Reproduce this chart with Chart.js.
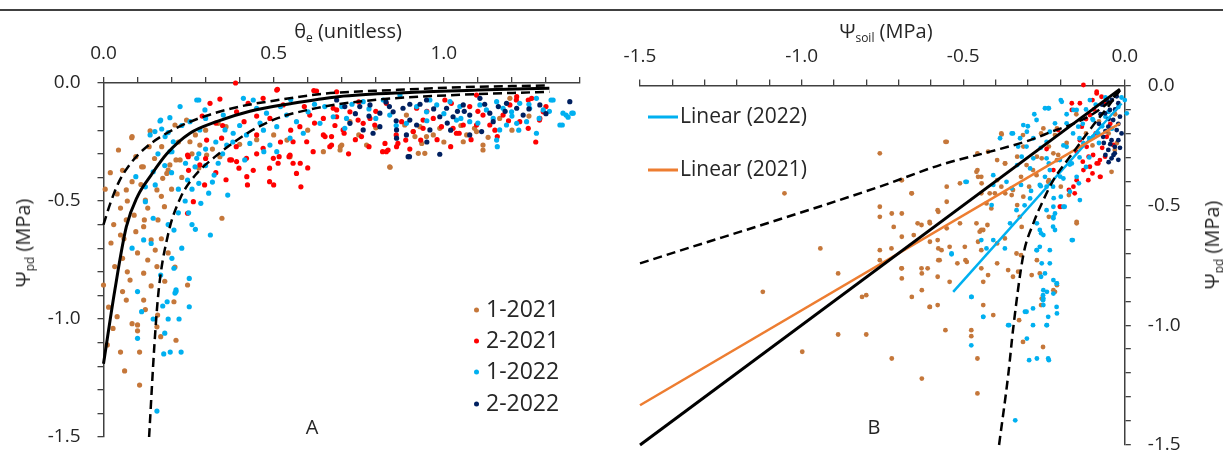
<!DOCTYPE html>
<html>
<head>
<meta charset="utf-8">
<script src="https://cdn.jsdelivr.net/npm/chart.js@4.4.0/dist/chart.umd.min.js"></script>
<style>
  body { margin: 0; background: #fff; }
  #wrap { position: relative; width: 1223px; height: 452px; overflow: hidden; font-family: 'Open Sans', sans-serif; color: #262626; }
  #topline { position: absolute; left: 0; top: 9px; width: 1223px; height: 2px; background: #404040; }
  #cA { position: absolute; left: 0; top: 0; }
  #cB { position: absolute; left: 610px; top: 0; }
  .t { position: absolute; white-space: nowrap; line-height: 1; transform: translate(-50%, -50%); }
  .rot { transform: translate(-50%, -50%) rotate(-90deg); }
  sub { font-size: 60%; vertical-align: -0.35em; line-height: 0; }
  .dot { display: inline-block; width: 5px; height: 5px; border-radius: 50%; vertical-align: middle; margin-right: 7px; }
  .leg { position: absolute; white-space: nowrap; line-height: 1; font-size: 23px; transform: translateY(-50%); }
  .lin { display: inline-block; width: 30px; height: 3px; vertical-align: middle; margin-right: 2px; }
</style>
</head>
<body>
<div id="wrap">
  <div id="topline"></div>
  <canvas id="cA" width="610" height="452"></canvas>
  <canvas id="cB" width="613" height="452"></canvas>

  <div class="t" style="left:348px;top:31px;font-size:20px;">θ<sub>e</sub> (unitless)</div>
  <div class="t" style="left:886px;top:31px;font-size:20px;">Ψ<sub>soil</sub> (MPa)</div>
  <div class="t rot" style="left:23px;top:243px;font-size:20px;">Ψ<sub>pd</sub> (MPa)</div>
  <div class="t rot" style="left:1212px;top:245px;font-size:20px;">Ψ<sub>pd</sub> (MPa)</div>

  <div class="leg" style="left:474px;top:308px;"><span class="dot" style="background:#C5773A"></span>1-2021</div>
  <div class="leg" style="left:474px;top:339px;"><span class="dot" style="background:#FF0000"></span>2-2021</div>
  <div class="leg" style="left:474px;top:370px;"><span class="dot" style="background:#00B0F0"></span>1-2022</div>
  <div class="leg" style="left:474px;top:402px;"><span class="dot" style="background:#002060"></span>2-2022</div>

  <div class="leg" style="left:648px;top:115px;font-size:21px;"><span class="lin" style="background:#00B0F0"></span>Linear (2022)</div>
  <div class="leg" style="left:648px;top:168px;font-size:21px;"><span class="lin" style="background:#ED7D31"></span>Linear (2021)</div>

  <div class="t" style="left:312px;top:427px;font-size:20px;">A</div>
  <div class="t" style="left:874px;top:427px;font-size:20px;">B</div>
</div>

<script>
// ---- panel A : theta_e vs psi_pd ----
const a2021_1 = [
  [0.005,-0.45],[0.056,-0.37],[0.084,-0.418],[0.112,-0.355],[0.123,-0.496],[0.05,-0.53],[0.067,-0.58],[0.05,-0.644],
  [0.022,-0.678],[0.095,-0.63],[0.118,-0.609],[0.14,-0.665],[0.033,-0.778],[0.056,-0.743],[0.078,-0.835],[0.118,-0.806],
  [0.157,-0.778],[0.152,-0.708],[0.179,-0.524],[0.157,-0.453],[0.174,-0.404],[0.19,-0.369],[0.213,-0.326],[0.247,-0.856],
  [0,-0.856],[0.348,-0.573],[0.842,-0.357],[0.095,-0.312],[0.067,-0.453],[0.011,-1.11],[0.028,-1.04],[0.05,-1.14],
  [0.067,-0.92],[0.084,-1.02],[0.062,-1.22],[0.1,-1.025],[0.1,-1.05],[0.106,-1.14],[0.106,-1.28],[0.118,-0.92],
  [0.123,-0.96],[0.168,-1.075],[0.207,-0.927],[0.213,-1.09],[0.056,-0.884],[0.159,-0.983],[0.157,-1.033],
  [0.083,-0.232],[0.137,-0.203],[0.171,-0.27],[0.21,-0.178],[0.244,-0.157],[0.254,-0.249],[0.283,-0.263],[0.303,-0.305],
  [0.225,-0.326],[0.195,-0.347],[0.117,-0.355],[0.186,-0.383],[0.342,-0.312],[0.337,-0.171],[0.548,-0.312],[0.646,-0.291],
  [0.7,-0.263],[0.695,-0.284],[0.724,-0.164],[0.773,-0.263],[0.841,-0.355],[0.89,-0.136],[0.91,-0.206],[0.915,-0.227],
  [0.93,-0.185],[0.949,-0.227],[0.935,-0.256],[0.925,-0.298],[0.944,-0.298],[0.969,-0.22],[0.988,-0.192],[1.057,-0.249],
  [1.067,-0.22],[1.115,-0.263],[1.115,-0.284],[1.096,-0.206],[1.164,-0.15],[1.194,-0.065],[0.885,-0.178],[0.044,-0.284],
  [0.084,-0.227],[0.134,-0.27],[0.02,-0.38],[0.04,-0.47],[0.07,-0.5],[0.09,-0.56],[0.13,-0.53],[0.16,-0.58],[0.2,-0.45],
  [0.23,-0.4],[0.26,-0.3],[0.1,-0.72],[0.13,-0.75],[0.07,-0.8],[0.03,-0.6],[0.17,-0.66],[0.19,-0.72],[0.015,-0.95],
  [0.04,-0.99],[0.14,-0.86],[0.18,-0.84],[0.21,-0.78],[0.27,-0.22],[0.3,-0.2],[0.32,-0.28],[0.4,-0.26],[0.45,-0.24],
  [0.5,-0.22],[0.6,-0.2],[0.75,-0.22],[0.8,-0.19],[1.0,-0.25],[1.05,-0.18],[1.2,-0.2],[1.25,-0.14],[1.13,-0.23],
  [0.36,-0.185],[0.539,-0.242],[0.696,-0.27],[1.09,-0.192],[0.15,-0.32],[0.22,-0.25],[0.28,-0.36],[0.11,-0.43],
  [0.06,-0.66],[0.12,-0.58],[0.17,-0.48]
];
const a2021_2 = [
  [0.247,-0.305],[0.297,-0.432],[0.264,-0.503],[0.247,-0.552],[0.376,-0.326],[0.398,-0.361],[0.421,-0.397],[0.423,-0.432],
  [0.488,-0.361],[0.488,-0.418],[0.5,-0.432],[0.516,-0.312],[0.545,-0.312],[0.567,-0.383],[0.578,-0.34],[0.831,-0.291],
  [0.388,0.0],[0.342,-0.068],[0.313,-0.086],[0.425,-0.086],[0.469,-0.065],[0.509,-0.03],[0.626,-0.034],[0.391,-0.122],
  [0.413,-0.164],[0.371,-0.326],[0.391,-0.333],[0.469,-0.277],[0.499,-0.319],[0.513,-0.34],[0.548,-0.305],[0.557,-0.249],
  [0.597,-0.249],[0.616,-0.291],[0.646,-0.22],[0.665,-0.27],[0.577,-0.185],[0.606,-0.136],[0.646,-0.15],[0.685,-0.114],
  [0.45,-0.22],[0.489,-0.15],[0.528,-0.093],[0.303,-0.242],[0.249,-0.312],[0.283,-0.347],[0.347,-0.234],[0.42,-0.319],
  [0.557,-0.34],[0.675,-0.107],[0.685,-0.143],[0.67,-0.263],[0.67,-0.227],[0.724,-0.122],[0.748,-0.157],[0.763,-0.171],
  [0.783,-0.15],[0.758,-0.227],[0.827,-0.256],[0.836,-0.284],[0.861,-0.27],[0.876,-0.164],[0.92,-0.107],[0.939,-0.157],
  [0.939,-0.192],[0.969,-0.15],[0.993,-0.185],[1.003,-0.072],[1.027,-0.192],[1.037,-0.213],[1.057,-0.178],[1.076,-0.1],
  [1.096,-0.178],[1.115,-0.136],[1.135,-0.178],[1.174,-0.136],[1.194,-0.093],[1.214,-0.058],[1.248,-0.192],[1.248,-0.072],
  [1.282,-0.15],[1.292,-0.122],[0.704,-0.199],[0.797,-0.178],[0.91,-0.206],[1.096,-0.051],[1.223,-0.164],[0.511,-0.027],
  [0.618,-0.032],[0.685,-0.037],[0.831,-0.086],[0.888,-0.242],[0.932,-0.242],[1.022,-0.086],[1.213,-0.072],[1.281,-0.157],
  [1.258,-0.065],[0.651,-0.227],[0.865,-0.256],[0.82,-0.291],[0.707,-0.213],[1.045,-0.213],[1.157,-0.227],[0.59,-0.1],
  [0.75,-0.08],[0.95,-0.12],[1.1,-0.12],[1.3,-0.1],[0.8,-0.12],[0.35,-0.18],[0.45,-0.14],[0.72,-0.3],[0.6,-0.36],
  [0.3,-0.32],[0.33,-0.38],[0.36,-0.41],[0.45,-0.3],[0.52,-0.25],[0.55,-0.2],[0.62,-0.17],[0.68,-0.18],[0.74,-0.24],
  [0.78,-0.27],[0.86,-0.22],[0.9,-0.28],[0.98,-0.24],[1.02,-0.27],[1.08,-0.24],[1.15,-0.2],[1.19,-0.16],[1.27,-0.25],
  [0.58,-0.44],[0.44,-0.37],[0.39,-0.27],[0.33,-0.17],[0.29,-0.14],[0.25,-0.37]
];
const a2022_1 = [
  [0.1,-1.082],[0.112,-0.969],[0.146,-1.0],[0.174,-0.945],[0.177,-1.148],[0.187,-0.927],[0.19,-1.0],[0.18,-1.06],
  [0.196,-1.14],[0.21,-0.89],[0.222,-1.0],[0.228,-1.14],[0.252,-0.948],[0.157,-1.39],[0.213,-0.877],
  [0.095,-0.397],[0.123,-0.44],[0.152,-0.432],[0.123,-0.503],[0.146,-0.573],[0.19,-0.6],[0.207,-0.623],[0.118,-0.665],
  [0.14,-0.68],[0.084,-0.7],[0.201,-0.743],[0.207,-0.785],[0.252,-0.828],[0.1,-0.884],[0.168,-0.814],[0.213,-0.884],
  [0.247,-0.411],[0.28,-0.425],[0.309,-0.467],[0.286,-0.51],[0.314,-0.644],[0.365,-0.475],[0.325,-0.39],[0.269,-0.355],
  [0.337,-0.34],[0.415,-0.326],[0.471,-0.291],[0.201,-0.291],[0.241,-0.34],
  [0.274,-0.072],[0.225,-0.1],[0.195,-0.147],[0.166,-0.161],[0.171,-0.195],[0.137,-0.22],[0.181,-0.227],[0.205,-0.249],
  [0.254,-0.164],[0.283,-0.199],[0.298,-0.114],[0.352,-0.136],[0.357,-0.199],[0.381,-0.213],[0.362,-0.263],[0.411,-0.065],
  [0.44,-0.072],[0.45,-0.107],[0.479,-0.128],[0.509,-0.185],[0.538,-0.136],[0.567,-0.164],[0.587,-0.213],[0.548,-0.234],
  [0.601,-0.122],[0.636,-0.171],[0.675,-0.143],[0.489,-0.263],[0.43,-0.256],[0.274,-0.319],[0.195,-0.291],[0.146,-0.376],
  [0.509,-0.291],[0.959,-0.072],[0.979,-0.093],[0.949,-0.122],[1.018,-0.079],[1.047,-0.1],[1.106,-0.093],[1.125,-0.114],
  [1.155,-0.079],[1.174,-0.107],[1.199,-0.122],[1.223,-0.086],[1.252,-0.107],[1.272,-0.065],[1.292,-0.114],[1.214,-0.171],
  [1.243,-0.164],[1.184,-0.178],[1.145,-0.15],[1.164,-0.199],[1.321,-0.072],[1.35,-0.128],[1.365,-0.145],[1.38,-0.128],
  [1.341,-0.178],[1.272,-0.213],[1.155,-0.242],[1.076,-0.164],[1.037,-0.157],[0.763,-0.079],[0.714,-0.15],[0.709,-0.192],
  [0.822,-0.072],[0.841,-0.136],[0.89,-0.171],[0.92,-0.1],[0.871,-0.051],[1.348,-0.178],[1.359,-0.136],[1.376,-0.128],
  [1.315,-0.072],[0.28,-0.072],[0.168,-0.157],[0.151,-0.206],[1.157,-0.27],[0.62,-0.09],[0.7,-0.1],[0.78,-0.11],
  [0.33,-0.25],[0.4,-0.18],[0.47,-0.2],[1.0,-0.13],[1.2,-0.14],[1.25,-0.09],[0.26,-0.6],[0.23,-0.7],
  [0.16,-0.3],[0.18,-0.35],[0.2,-0.38],[0.22,-0.45],[0.24,-0.5],[0.26,-0.45],[0.28,-0.3],[0.3,-0.35],[0.32,-0.42],
  [0.25,-0.55],[0.27,-0.62],[0.22,-0.55],[0.3,-0.28],[0.35,-0.3],[0.38,-0.25],[0.42,-0.22],[0.46,-0.17],[0.52,-0.1],
  [0.55,-0.07],[0.65,-0.1],[0.73,-0.09],[0.8,-0.15],[0.86,-0.18],[0.95,-0.16],[1.05,-0.15],[1.1,-0.17],[1.28,-0.15],
  [1.31,-0.12],[1.22,-0.2],[0.19,-0.21],[0.23,-0.18],[0.3,-0.15]
];
const a2022_2 = [
  [0.685,-0.072],[0.709,-0.1],[0.753,-0.1],[0.783,-0.093],[0.812,-0.128],[0.851,-0.122],[0.88,-0.107],[0.9,-0.157],
  [0.812,-0.185],[0.792,-0.213],[0.763,-0.199],[0.861,-0.199],[0.861,-0.234],[0.89,-0.22],[0.92,-0.178],[0.949,-0.072],
  [0.988,-0.143],[1.008,-0.107],[1.057,-0.093],[1.076,-0.136],[1.106,-0.065],[1.135,-0.128],[1.145,-0.164],[1.111,-0.206],
  [1.076,-0.22],[1.184,-0.086],[1.214,-0.107],[1.233,-0.136],[1.282,-0.093],[1.37,-0.079],[0.895,-0.312],[0.988,-0.302],
  [1.027,-0.143],[0.959,-0.199],[0.724,-0.171],[0.899,-0.312],[0.83,-0.08],[0.93,-0.09],[1.04,-0.12],[1.16,-0.1],
  [0.78,-0.14],[0.84,-0.1],[0.9,-0.09],[0.97,-0.11],[1.01,-0.17],[1.06,-0.12],[1.12,-0.09],[1.18,-0.12],[1.25,-0.11],
  [1.3,-0.13],[0.95,-0.25],[1.02,-0.2],[0.86,-0.16],[0.74,-0.13]
];
const aFit = [[0,-1.19],[0.033,-0.88],[0.067,-0.61],[0.1,-0.48],[0.14,-0.39],[0.186,-0.3],[0.254,-0.213],[0.332,-0.164],
  [0.43,-0.12],[0.548,-0.088],[0.69,-0.058],[0.9,-0.04],[1.1,-0.03],[1.31,-0.022]];
const aUpper = [[0,-0.6],[0.02,-0.51],[0.045,-0.42],[0.08,-0.34],[0.127,-0.27],[0.215,-0.19],[0.3,-0.14],[0.4,-0.1],
  [0.5,-0.075],[0.65,-0.045],[0.85,-0.03],[1.05,-0.018],[1.31,-0.01]];
const aLower = [[0.134,-1.5],[0.15,-1.1],[0.162,-0.88],[0.19,-0.64],[0.225,-0.49],[0.27,-0.39],[0.33,-0.31],[0.372,-0.263],
  [0.43,-0.206],[0.51,-0.15],[0.6,-0.114],[0.69,-0.09],[0.85,-0.065],[1.05,-0.05],[1.31,-0.037]];

// ---- panel B : psi_soil vs psi_pd ----
const b2021_1 = [
  [-0.758,-0.283],[-1.053,-0.45],[-0.942,-0.68],[-0.758,-0.506],[-0.758,-0.548],[-0.758,-0.687],[-0.758,-0.729],
  [-0.721,-0.534],[-0.69,-0.534],[-0.69,-0.395],[-0.659,-0.45],[-0.715,-0.59],[-0.69,-0.631],[-0.69,-0.763],[-0.69,-0.805],
  [-0.887,-0.784],[-0.653,-0.624],[-0.641,-0.575],[-0.604,-0.569],[-0.579,-0.52],[-0.579,-0.645],[-0.573,-0.729],
  [-0.567,-0.687],[-0.628,-0.784],[-0.61,-0.763],[-0.579,-0.798],[-0.456,-0.353],[-0.444,-0.381],[-0.444,-0.45],
  [-0.425,-0.582],[-0.413,-0.513],[-0.395,-0.395],[-0.382,-0.422],[-0.37,-0.45],[-0.346,-0.436],[-0.321,-0.381],
  [-0.296,-0.422],[-0.333,-0.499],[-0.444,-0.603],[-0.444,-0.687],[-0.444,-0.763],[-0.395,-0.659],[-0.395,-0.742],
  [-0.321,-0.708],[-0.346,-0.798],[-0.21,-0.311],[-0.149,-0.569],[-0.235,-0.548],[-0.456,-0.283],[-0.37,-0.325],
  [-0.395,-0.311],[-0.284,-0.353],[-0.333,-0.297],[-0.272,-0.297],[-0.235,-0.395],[-0.198,-0.422],[-0.173,-0.457],
  [-0.542,-0.673],[-0.493,-0.729],[-0.542,-0.819],[-0.272,-0.729],[-0.21,-0.833],[-0.813,-0.882],[-0.518,-0.742],
  [-1.12,-0.861],[-0.8,-0.875],[-0.659,-0.882],[-0.628,-0.854],[-0.604,-0.924],[-0.579,-0.916],[-0.887,-1.039],
  [-0.8,-1.039],[-0.998,-1.111],[-0.721,-1.139],[-0.628,-1.223],[-0.555,-1.021],[-0.475,-1.021],[-0.475,-1.046],
  [-0.456,-1.139],[-0.438,-0.916],[-0.407,-0.958],[-0.456,-1.285],[-0.327,-0.979],[-0.315,-1.07],[-0.259,-0.916],
  [-0.253,-1.091],[-0.216,-0.861],[-0.551,-0.235],[-0.423,-0.276],[-0.381,-0.204],[-0.371,-0.325],[-0.459,-0.36],
  [-0.454,-0.381],[-0.443,-0.408],[-0.51,-0.408],[-0.551,-0.422],[-0.66,-0.45],[-0.691,-0.395],[-0.314,-0.255],
  [-0.252,-0.179],[-0.221,-0.283],[-0.257,-0.304],[-0.304,-0.332],[-0.273,-0.374],[-0.237,-0.402],[-0.216,-0.207],
  [-0.206,-0.29],[-0.149,-0.575],[-0.041,-0.36],[-0.031,-0.269],[-0.025,-0.241],[-0.221,-0.854],[-0.257,-0.889],
  [-0.382,-0.2],[-0.315,-0.207],[-0.555,-0.235],[-0.21,-0.179],[-0.259,-0.2],[-0.235,-0.255],[-0.15,-0.12],
  [-0.12,-0.2],[-0.1,-0.25],[-0.18,-0.24],[-0.08,-0.15],[-0.05,-0.2],[-0.03,-0.12],[-0.722,-0.68],[-0.691,-0.763],
  [-0.629,-0.582],[-0.629,-0.763],[-0.603,-0.575],[-0.603,-0.652],[-0.603,-0.924],[-0.577,-0.527],[-0.577,-0.68],
  [-0.577,-0.729],[-0.551,-0.485],[-0.551,-0.596],[-0.51,-0.575],[-0.495,-0.673],[-0.489,-0.736],[-0.459,-0.575],
  [-0.449,-0.61],[-0.454,-0.652],[-0.428,-0.492],[-0.418,-0.45],[-0.423,-0.791],[-0.438,-0.819],[-0.402,-0.45],
  [-0.371,-0.638],[-0.361,-0.77],[-0.35,-0.457],[-0.335,-0.701],[-0.33,-0.777],[-0.325,-0.548],[-0.319,-0.59],
  [-0.314,-0.464],[-0.288,-0.791],[-0.263,-0.784],[-0.438,-0.603]
];
const b2021_2 = [
  [-0.198,-0.506],[-0.13,-0.318],[-0.112,-0.297],[-0.087,-0.325],[-0.1,-0.367],[-0.075,-0.381],[-0.149,-0.395],
  [-0.173,-0.436],[-0.155,-0.45],[-0.242,-0.265],[-0.221,-0.353],[-0.206,-0.186],[-0.128,0.002],[-0.087,-0.033],
  [-0.072,-0.047],[-0.139,-0.074],[-0.164,-0.102],[-0.108,-0.123],[-0.133,-0.172],[-0.118,-0.256],[-0.098,-0.29],
  [-0.082,-0.325],[-0.108,-0.339],[-0.128,-0.353],[-0.077,-0.381],[-0.113,-0.395],[-0.159,-0.422],[-0.149,-0.276],
  [-0.201,-0.506],[-0.056,-0.214],[-0.036,-0.248],[-0.061,-0.297],[-0.139,-0.228],[-0.164,-0.074],[-0.077,-0.311],
  [-0.087,-0.026],[-0.1,-0.061],[-0.063,-0.074],[-0.09,-0.2],[-0.07,-0.26],[-0.045,-0.16],[-0.12,-0.14],[-0.095,-0.1]
];
const b2022_1 = [
  [-0.475,-0.882],[-0.438,-0.965],[-0.475,-1.084],[-0.358,-1.0],[-0.309,-0.944],[-0.284,-0.93],[-0.284,-1.0],
  [-0.253,-0.875],[-0.253,-0.896],[-0.241,-0.861],[-0.21,-0.951],[-0.241,-1.0],[-0.303,-1.056],[-0.296,-1.146],
  [-0.272,-1.139],[-0.235,-1.146],[-0.339,-1.397],[-0.444,-0.645],[-0.407,-0.645],[-0.259,-0.617],[-0.161,-0.645],
  [-0.272,-0.687],[-0.247,-0.784],[-0.259,-0.798],[-0.21,-0.826],[-0.272,-0.575],[-0.222,-0.589],[-0.536,-0.701],
  [-0.493,-0.402],[-0.407,-0.415],[-0.333,-0.332],[-0.321,-0.415],[-0.247,-0.381],[-0.222,-0.422],[-0.198,-0.464],
  [-0.186,-0.506],[-0.216,-0.534],[-0.142,-0.408],[-0.235,-0.325],[-0.237,-0.095],[-0.273,-0.144],[-0.314,-0.165],
  [-0.35,-0.2],[-0.386,-0.22],[-0.324,-0.22],[-0.33,-0.255],[-0.319,-0.297],[-0.304,-0.255],[-0.283,-0.22],
  [-0.283,-0.304],[-0.366,-0.402],[-0.407,-0.374],[-0.489,-0.402],[-0.242,-0.235],[-0.242,-0.304],[-0.293,-0.346],
  [-0.35,-0.429],[-0.263,-0.415],[-0.195,-0.068],[-0.247,-0.095],[-0.159,-0.102],[-0.108,-0.061],[-0.216,-0.158],
  [-0.18,-0.158],[-0.232,-0.193],[-0.144,-0.172],[-0.098,-0.144],[-0.082,-0.2],[-0.128,-0.241],[-0.098,-0.214],
  [0,-0.061],[0.006,-0.116],[-0.18,-0.256],[-0.201,-0.311],[-0.232,-0.353],[-0.164,-0.325],[-0.149,-0.381],
  [-0.19,-0.388],[-0.17,-0.443],[-0.139,-0.478],[-0.242,-0.422],[-0.221,-0.506],[-0.19,-0.506],[-0.221,-0.548],
  [-0.164,-0.645],[-0.232,-0.687],[-0.257,-0.742],[-0.221,-0.812],[-0.211,-0.826],[-0.237,-0.965],[-0.237,-1.139],
  [-0.252,-0.854],[-0.252,-0.916],[-0.235,-0.095],[-0.198,-0.061],[-0.346,-0.2],[-0.303,-0.193],[-0.149,-0.102],
  [-0.536,-0.704],[-0.474,-0.882],[-0.438,-0.965],[-0.361,-1.0],[-0.304,-0.944],[-0.273,-0.687],[-0.252,-0.889],
  [-0.221,-0.868],[-0.232,-0.742],[-0.216,-0.603],[-0.211,-0.924],[-0.242,-1.0],[-0.412,-0.499],[-0.428,-0.68],
  [-0.355,-0.575],[-0.335,-0.52],[-0.263,-0.603],[-0.252,-0.624],[-0.263,-0.673],[-0.371,-0.68],[-0.293,-0.471],
  [-0.242,-0.52],[-0.221,-0.554],[-0.12,-0.1],[-0.09,-0.08],[-0.06,-0.05],[-0.03,-0.04],[-0.01,-0.05],[-0.02,-0.09],
  [-0.05,-0.11],[-0.1,-0.14],[-0.13,-0.16],[-0.07,-0.17],[-0.04,-0.18],[-0.11,-0.22],[-0.16,-0.2],[-0.19,-0.25],
  [-0.14,-0.3],[-0.12,-0.34],[-0.17,-0.33],[-0.2,-0.38],[-0.26,-0.42],[-0.29,-0.44],[-0.31,-0.5],[-0.22,-0.47],
  [-0.28,-0.12],[-0.3,-0.17],[-0.26,-0.26],[-0.18,-0.12],[-0.14,-0.22],[-0.06,-0.13],[-0.08,-0.24],[-0.11,-0.3]
];
const b2022_2 = [
  [-0.056,-0.061],[-0.046,-0.102],[-0.036,-0.144],[-0.025,-0.186],[-0.051,-0.172],[-0.041,-0.228],[-0.031,-0.256],
  [-0.041,-0.304],[-0.02,-0.074],[-0.061,-0.116],[-0.015,-0.13],[-0.067,-0.214],[-0.02,-0.228],[-0.051,-0.269],
  [-0.031,-0.283],[-0.07,-0.08],[-0.04,-0.06],[-0.03,-0.1],[-0.05,-0.14],[-0.06,-0.19],[-0.02,-0.16],[-0.01,-0.2],
  [-0.045,-0.245],[-0.035,-0.29],[-0.015,-0.26],[-0.065,-0.24],[-0.08,-0.16],[-0.075,-0.12],[-0.025,-0.045],
  [-0.06,-0.29],[-0.05,-0.32],[-0.02,-0.31]
];
const bOneToOne = [[-1.5,-1.5],[-0.015,-0.015]];
const bUpper = [[-1.5,-0.742],[-0.758,-0.422],[-0.572,-0.332],[-0.417,-0.276],[-0.293,-0.228],[-0.221,-0.19],
  [-0.16,-0.16],[-0.1,-0.12],[-0.05,-0.07],[-0.015,-0.02]];
const bLower = [[-0.389,-1.5],[-0.36,-1.2],[-0.345,-1.01],[-0.314,-0.708],[-0.283,-0.575],[-0.252,-0.478],
  [-0.221,-0.395],[-0.16,-0.28],[-0.1,-0.17],[-0.05,-0.085],[-0.015,-0.02]];
const bLin2021 = [[-1.5,-1.334],[-0.015,-0.158]];
const bLin2022 = [[-0.531,-0.861],[-0.01,-0.075]];

const tickLabels = ['0.0', '0.5', '1.0', '-0.5', '-1.0', '-1.5'];

const BROWN = '#C5773A', RED = '#FF0000', LBLUE = '#00B0F0', NAVY = '#002060', ORANGE = '#ED7D31';
const AXIS = '#404040';

const xy = arr => arr.map(p => ({ x: p[0], y: p[1] }));

function pts(data, color, r, order) {
  return { data: xy(data), backgroundColor: color, borderWidth: 0, pointRadius: r, pointHoverRadius: r,
           showLine: false, order: order, clip: false };
}
function curve(data, color, w, dash) {
  return { data: xy(data), borderColor: color, borderWidth: w, borderDash: dash || [], pointRadius: 0,
           showLine: true, cubicInterpolationMode: 'monotone', order: 0, clip: false };
}

function label(v) {
  const s = (Math.round(v * 10) / 10).toFixed(1);
  return tickLabels.includes(s) && Math.round(v * 10) % 5 === 0 ? s : '';
}

function axis(pos, min, max, size, pad) {
  return {
    type: 'linear', position: pos, min: min, max: max,
    grid: { display: true, drawOnChartArea: false, drawTicks: true, tickLength: 6, tickColor: AXIS, lineWidth: 1.3 },
    border: { display: true, color: AXIS, width: 1.5 },
    ticks: { stepSize: 0.1, autoSkip: false, maxRotation: 0, padding: pad, color: '#262626',
             font: { family: 'Open Sans', size: 19 }, callback: v => label(v) },
    afterFit: s => {
      if (pos === 'top') s.height = size; else s.width = size;
      s.paddingLeft = 0; s.paddingRight = 0; s.paddingTop = 0; s.paddingBottom = 0;
    }
  };
}

function opts(padding, xs, ys) {
  return {
    responsive: false, animation: false,
    layout: { padding: padding },
    plugins: { legend: { display: false }, tooltip: { enabled: false } },
    scales: { x: xs, y: ys }
  };
}

new Chart(document.getElementById('cA'), {
  type: 'scatter',
  data: { datasets: [
    curve(aFit, '#000', 3),
    curve(aUpper, '#000', 2.5, [9, 5]),
    curve(aLower, '#000', 2.5, [9, 5]),
    pts(a2022_2, NAVY, 2.6, 1),
    pts(a2022_1, LBLUE, 2.6, 2),
    pts(a2021_2, RED, 2.6, 3),
    pts(a2021_1, BROWN, 2.6, 4)
  ] },
  options: opts({ left: 0, top: 0, right: 30, bottom: 15 },
    axis('top', 0, 1.4, 83, 12),
    axis('left', -1.5, 0, 103.5, 17))
});

new Chart(document.getElementById('cB'), {
  type: 'scatter',
  data: { datasets: [
    curve(bOneToOne, '#000', 3),
    curve(bUpper, '#000', 2.5, [9, 5]),
    curve(bLower, '#000', 2.5, [9, 5]),
    curve(bLin2021, ORANGE, 2.5),
    curve(bLin2022, LBLUE, 2.5),
    pts(b2022_2, NAVY, 2.4, 1),
    pts(b2022_1, LBLUE, 2.4, 2),
    pts(b2021_2, RED, 2.4, 3),
    pts(b2021_1, BROWN, 2.4, 4)
  ] },
  options: opts({ left: 30, top: 0, right: 0, bottom: 7 },
    axis('top', -1.5, 0, 85.5, 12),
    axis('right', -1.5, 0, 98.2, 17))
});
</script>
</body>
</html>
